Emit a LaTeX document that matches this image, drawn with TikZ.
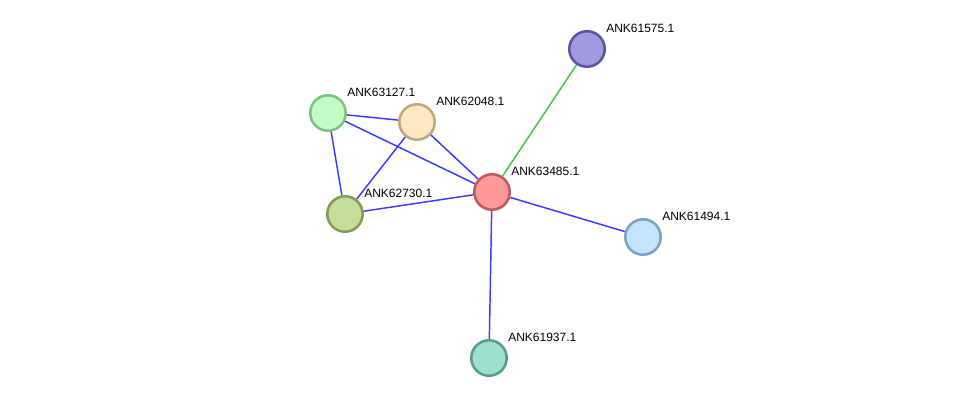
\documentclass[tikz,border=0pt]{standalone}
\usepackage{fontspec}
\setmainfont{Liberation Sans}
\usepackage{tikz}

\definecolor{bordoA}{HTML}{5B55A0}\definecolor{fillA}{HTML}{A29AE0}
\definecolor{bordoB}{HTML}{80C088}\definecolor{fillB}{HTML}{C2FCC3}
\definecolor{bordoC}{HTML}{BCA97E}\definecolor{fillC}{HTML}{FEE8C1}
\definecolor{bordoD}{HTML}{C05A5A}\definecolor{fillD}{HTML}{FF9898}
\definecolor{bordoE}{HTML}{869C56}\definecolor{fillE}{HTML}{C5DD98}
\definecolor{bordoF}{HTML}{7FA0C0}\definecolor{fillF}{HTML}{C2E4FC}
\definecolor{bordoG}{HTML}{5A9C8C}\definecolor{fillG}{HTML}{9EE0CF}
\definecolor{linkblu}{HTML}{3A3AFF}
\definecolor{linkverde}{HTML}{3CC83C}

\begin{document}
\begin{tikzpicture}[x=0.75pt, y=-0.75pt]
        % Stili
        \tikzstyle{prot} = [draw, circle, minimum size=26.6pt, inner sep=0pt, line width=1.9pt, label distance=0pt]
        \tikzstyle{lbl} = [font=\fontsize{9}{10}\selectfont, inner sep=0pt, yshift=15.8pt]
        \tikzstyle{link} = [line width=1.1pt, linkblu]

        \useasboundingbox (0,0) rectangle (975,404);

        % Nodi
        \node [prot, draw=bordoA, fill=fillA, label={[lbl]east:ANK61575.1}] (p61575) at (587,49) {};
        \node [prot, draw=bordoB, fill=fillB, label={[lbl]east:ANK63127.1}] (p63127) at (328,113) {};
        \node [prot, draw=bordoC, fill=fillC, label={[lbl]east:ANK62048.1}] (p62048) at (417,122) {};
        \node [prot, draw=bordoD, fill=fillD, label={[lbl]east:ANK63485.1}] (p63485) at (492,192) {};
        \node [prot, draw=bordoE, fill=fillE, label={[lbl]east:ANK62730.1}] (p62730) at (345,214) {};
        \node [prot, draw=bordoF, fill=fillF, label={[lbl]east:ANK61494.1}] (p61494) at (643,237) {};
        \node [prot, draw=bordoG, fill=fillG, label={[lbl]east:ANK61937.1}] (p61937) at (489,358) {};

        % Collegamenti
        \draw [link, linkverde] (p63485) -- (p61575);
        \draw [link] (p63127) -- (p62048);
        \draw [link] (p63127) -- (p62730);
        \draw [link] (p63127) -- (p63485);
        \draw [link] (p62048) -- (p62730);
        \draw [link] (p62048) -- (p63485);
        \draw [link] (p62730) -- (p63485);
        \draw [link] (p63485) -- (p61494);
        \draw [link] (p63485) -- (p61937);

    \end{tikzpicture}
\end{document}
